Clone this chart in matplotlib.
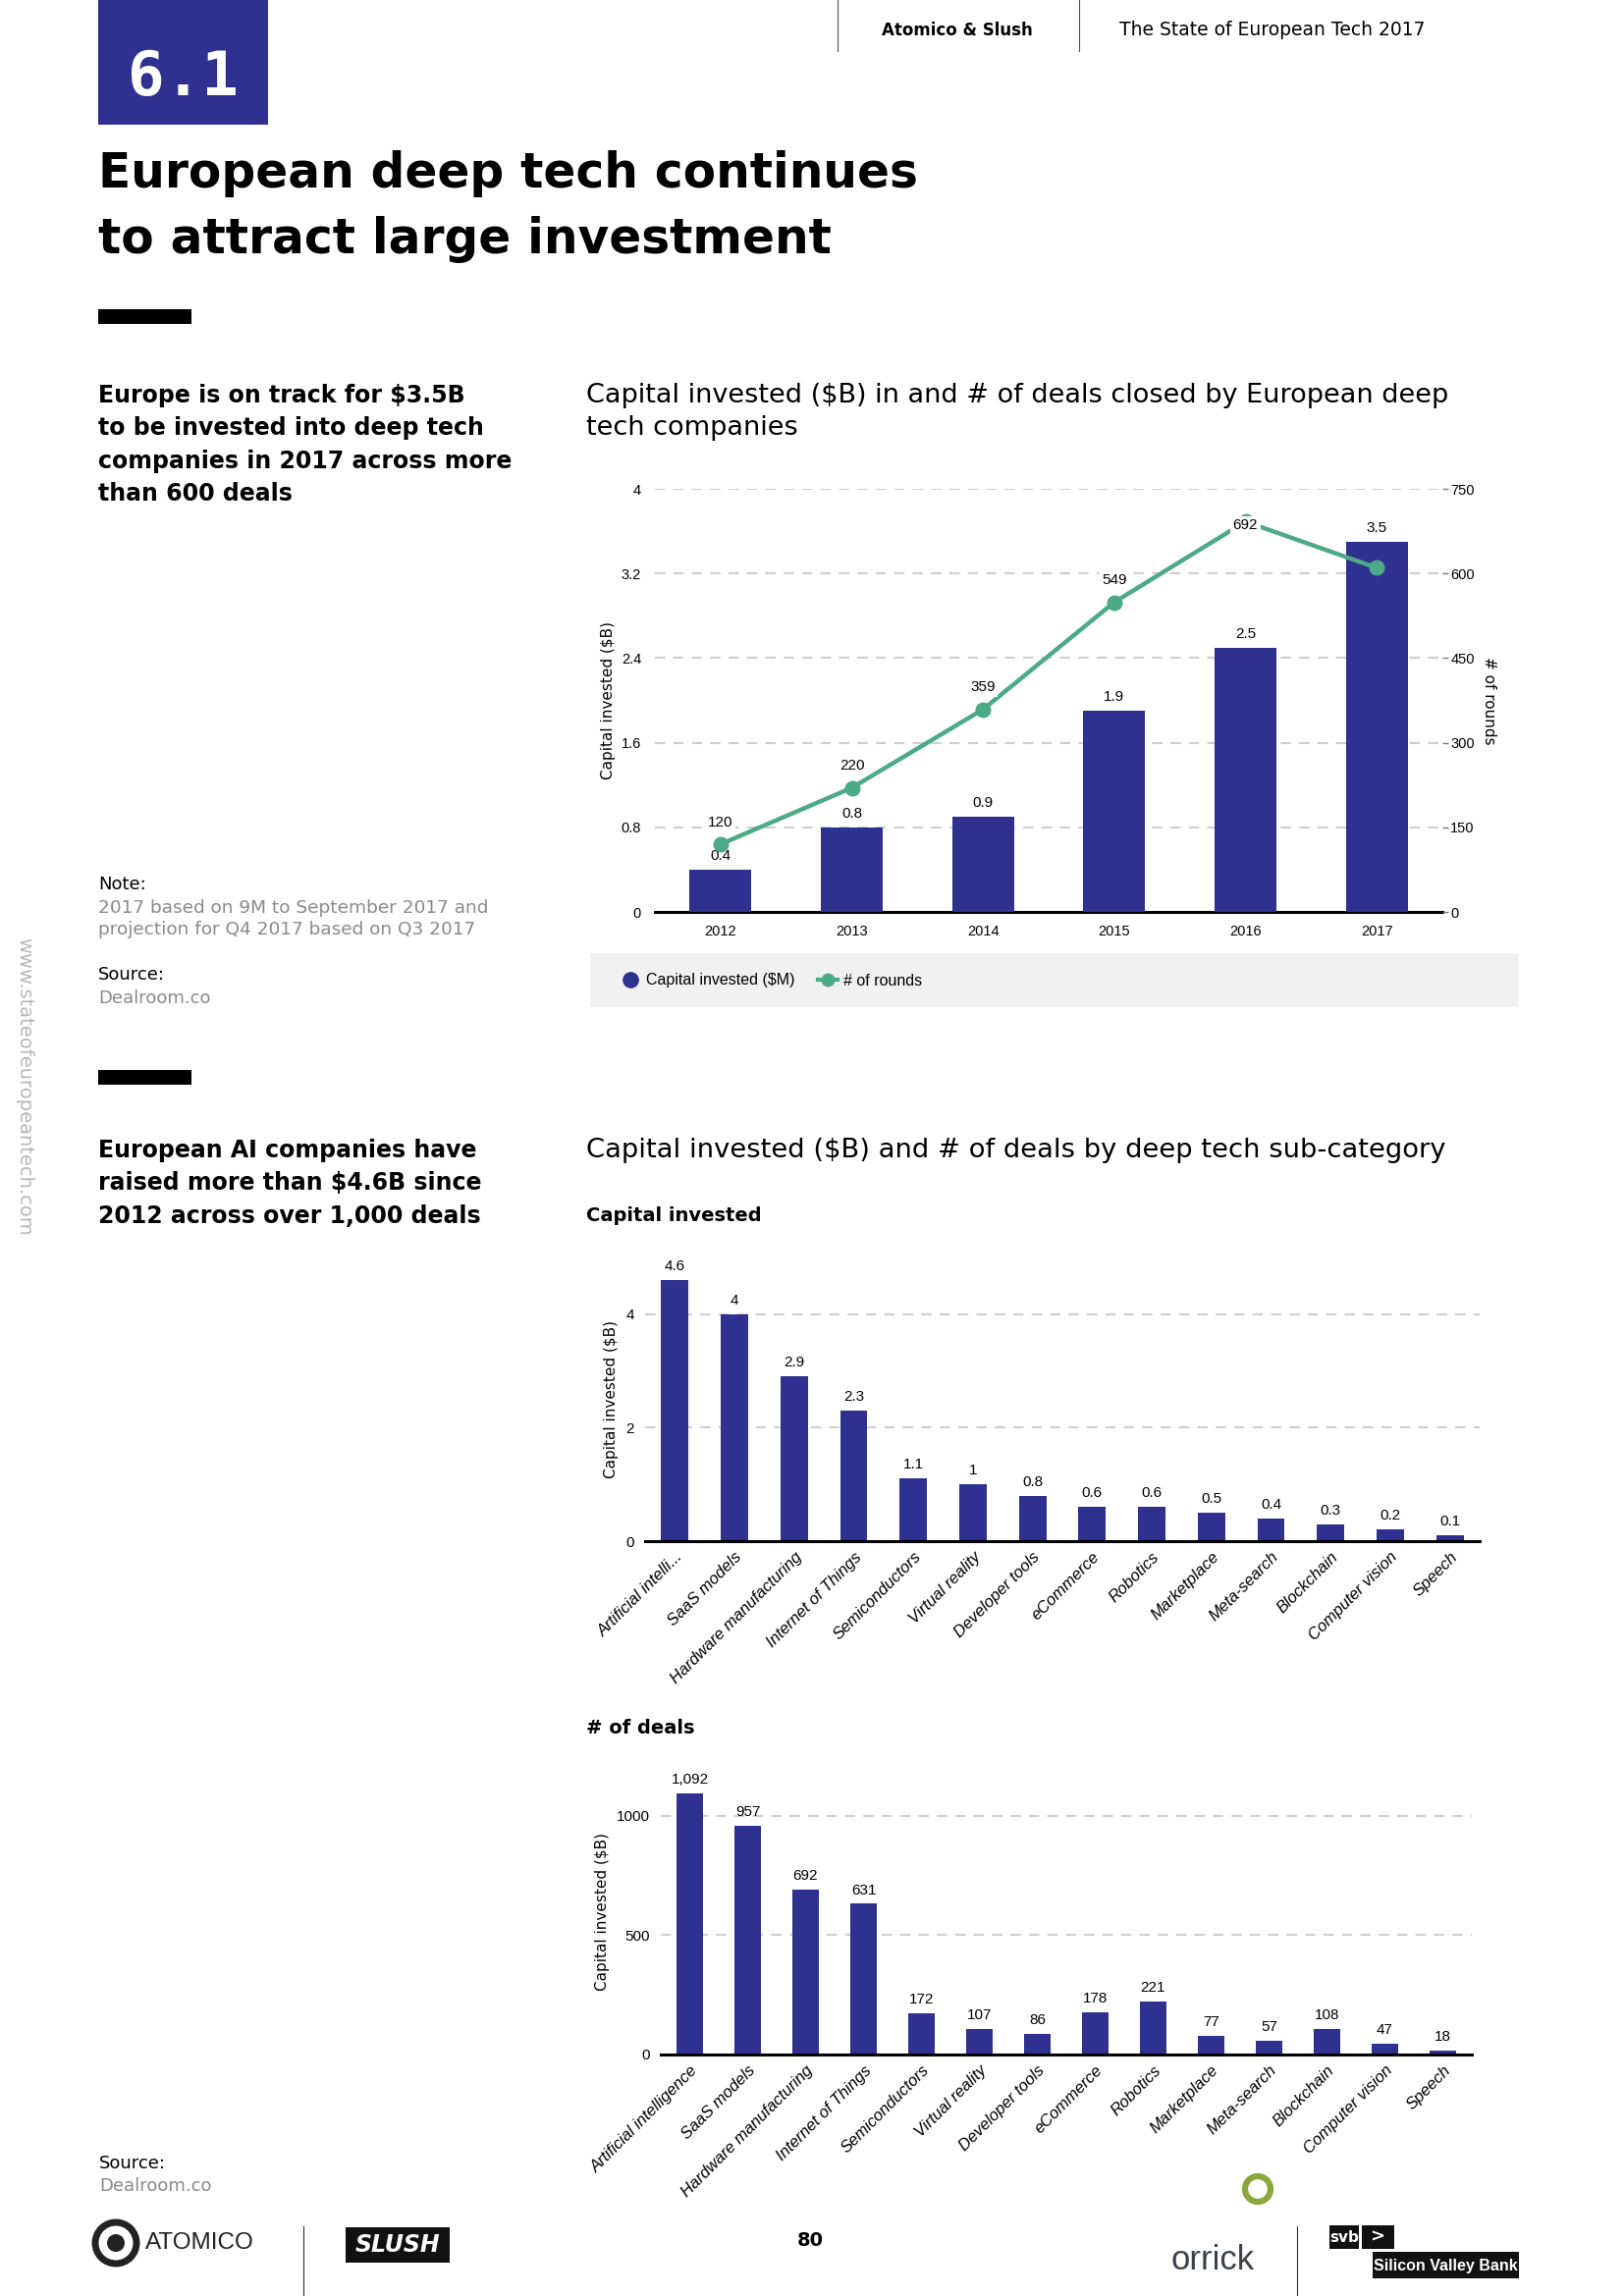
import numpy as np
import matplotlib.pyplot as plt
from matplotlib.patches import Rectangle, Ellipse
from matplotlib.lines import Line2D

# --- page geometry (pixels of the 1654x2339 page) ---
W, H = 1654, 2339


def fx(x):
    return x / W


def fy(y):
    return 1 - y / H


def ring(cx, cy, r, **kw):
    # round circle in figure coords (page is not square)
    return Ellipse((fx(cx), fy(cy)), 2 * r / W, 2 * r / H, transform=fig.transFigure, **kw)


NAVY = '#2e3190'
GREEN = '#4caa86'
GRID = '#cfcfcf'
GREY_TXT = '#8a8a8a'

# --- data: capital invested / rounds by year ---
years = ['2012', '2013', '2014', '2015', '2016', '2017']
capital_b = [0.4, 0.8, 0.9, 1.9, 2.5, 3.5]
rounds = [120, 220, 359, 549, 692, 610]
round_labels = ['120', '220', '359', '549', '692', '']

# --- data: sub-categories ---
categories = ['Artificial intelligence', 'SaaS models', 'Hardware manufacturing',
              'Internet of Things', 'Semiconductors', 'Virtual reality',
              'Developer tools', 'eCommerce', 'Robotics', 'Marketplace',
              'Meta-search', 'Blockchain', 'Computer vision', 'Speech']
categories_short = ['Artificial intelli...'] + categories[1:]
sub_capital = [4.6, 4, 2.9, 2.3, 1.1, 1, 0.8, 0.6, 0.6, 0.5, 0.4, 0.3, 0.2, 0.1]
sub_capital_labels = ['4.6', '4', '2.9', '2.3', '1.1', '1', '0.8', '0.6', '0.6',
                      '0.5', '0.4', '0.3', '0.2', '0.1']
sub_deals = [1092, 957, 692, 631, 172, 107, 86, 178, 221, 77, 57, 108, 47, 18]
sub_deal_labels = ['1,092', '957', '692', '631', '172', '107', '86', '178', '221',
                   '77', '57', '108', '47', '18']

plt.rcParams['font.family'] = ['DejaVu Sans']
fig = plt.figure(figsize=(W / 100, H / 100), dpi=100)

# --- header ---
fig.add_artist(Rectangle((fx(100), fy(127)), fx(273) - fx(100), 127 / H,
                         transform=fig.transFigure, color=NAVY, lw=0))
fig.text(fx(186), fy(80), '6.1', color='white', fontsize=45, fontweight='bold',
         family='DejaVu Sans Mono', ha='center', va='center')
for xl in (853, 1099):
    fig.add_artist(Line2D([fx(xl), fx(xl)], [fy(0), fy(52)], color='#555555', lw=0.8))
fig.text(fx(975), fy(31), 'Atomico & Slush', fontsize=12, fontweight='bold', ha='center', va='center')
fig.text(fx(1296), fy(31), 'The State of European Tech 2017', fontsize=13.5, ha='center', va='center')

fig.text(fx(100), fy(177), 'European deep tech continues', fontsize=35, fontweight='bold', va='center')
fig.text(fx(100), fy(244), 'to attract large investment', fontsize=35, fontweight='bold', va='center')

for yb in (315, 1090):
    fig.add_artist(Rectangle((fx(100), fy(yb + 15)), fx(195) - fx(100), 15 / H,
                             transform=fig.transFigure, color='black', lw=0))

# --- left column text ---
for i, line in enumerate(['Europe is on track for $3.5B', 'to be invested into deep tech',
                          'companies in 2017 across more', 'than 600 deals']):
    fig.text(fx(100), fy(403 + i * 33.3), line, fontsize=17, fontweight='bold', va='center')
fig.text(fx(100), fy(901), 'Note:', fontsize=13, va='center')
fig.text(fx(100), fy(925), '2017 based on 9M to September 2017 and', fontsize=13.3,
         color=GREY_TXT, va='center')
fig.text(fx(100), fy(947), 'projection for Q4 2017 based on Q3 2017', fontsize=13.3,
         color=GREY_TXT, va='center')
fig.text(fx(100), fy(993), 'Source:', fontsize=13, va='center')
fig.text(fx(100), fy(1017), 'Dealroom.co', fontsize=13, color=GREY_TXT, va='center')

for i, line in enumerate(['European AI companies have', 'raised more than $4.6B since',
                          '2012 across over 1,000 deals']):
    fig.text(fx(100), fy(1172 + i * 33.3), line, fontsize=17, fontweight='bold', va='center')

fig.text(fx(25), fy(1107), 'www.stateofeuropeantech.com', fontsize=14, color='#b8b8b8',
         rotation=-90, ha='center', va='center')

# --- chart 1 titles ---
fig.text(fx(597), fy(403), 'Capital invested ($B) in and # of deals closed by European deep',
         fontsize=19.5, va='center')
fig.text(fx(597), fy(436), 'tech companies', fontsize=19.5, va='center')

CH = ['Liberation Sans', 'DejaVu Sans']

# --- chart 1 ---
ax = fig.add_axes([fx(667), fy(929), (1469 - 667) / W, (929 - 498) / H])
x = np.arange(len(years))
bars = ax.bar(x, capital_b, width=0.47, color=NAVY, zorder=3)
ax.set_xlim(-0.5, 5.5)
ax.set_ylim(0, 4)
ax.set_yticks(np.arange(0, 4.01, 0.8))
ax.set_yticklabels(['0', '0.8', '1.6', '2.4', '3.2', '4'])
ax.set_xticks(x)
ax.set_xticklabels(years)
ax.grid(axis='y', ls=(0, (5, 4)), color=GRID, lw=1.5, zorder=0)
for s in ('top', 'right', 'left'):
    ax.spines[s].set_visible(False)
ax.spines['bottom'].set_linewidth(2.2)
ax.tick_params(axis='both', length=0, labelsize=10.5)
ax.tick_params(axis='y', pad=10)
ax.tick_params(axis='x', pad=9)
for t in ax.get_xticklabels() + ax.get_yticklabels():
    t.set_family(CH)
ax.set_ylabel('Capital invested ($B)', fontsize=11, labelpad=4)
for xi, v in zip(x, capital_b):
    ax.annotate(f'{v:g}', (xi, v), xytext=(0, 5), textcoords='offset points',
                ha='center', va='bottom', fontsize=11, family=CH)

ax2 = ax.twinx()
line, = ax2.plot(x, rounds, color=GREEN, lw=3.2, marker='o', ms=10.5, zorder=4)
ax2.set_ylim(0, 750)
ax2.set_yticks(range(0, 751, 150))
for s in ('top', 'right', 'left', 'bottom'):
    ax2.spines[s].set_visible(False)
ax2.tick_params(axis='y', length=4, width=1, color='#777777', labelsize=10.5, pad=2)
for t in ax2.get_yticklabels():
    t.set_family(CH)
ax2.set_ylabel('# of rounds', fontsize=11, rotation=270, labelpad=16)
for xi, v, lab in zip(x, rounds, round_labels):
    # the top label sits on its point (no room above the chart)
    dy = -8 if v > 680 else 11
    ax2.annotate(lab, (xi, v), xytext=(0, dy), textcoords='offset points',
                 ha='center', va='bottom', fontsize=11, family=CH,
                 bbox=dict(boxstyle='square,pad=0.15', fc='white', ec='none'), zorder=5)

# legend band
fig.add_artist(Rectangle((fx(601), fy(1026)), fx(1547) - fx(601), 55 / H,
                         transform=fig.transFigure, color='#f1f1f1', lw=0))
handles = [Line2D([], [], color=NAVY, marker='o', ls='none', ms=11),
           Line2D([], [], color=GREEN, marker='o', lw=3, ms=9)]
fig.legend(handles, ['Capital invested ($M)', '# of rounds'], loc='center left',
           bbox_to_anchor=(fx(618), fy(999)), frameon=False, ncol=2,
           handlelength=1.2, handletextpad=0.4, columnspacing=1.5,
           prop={'family': CH, 'size': 11.5})

# --- chart 2 titles ---
fig.text(fx(597), fy(1172), 'Capital invested ($B) and # of deals by deep tech sub-category',
         fontsize=19.7, va='center')
fig.text(fx(597), fy(1238), 'Capital invested', fontsize=14, fontweight='bold', va='center')
fig.text(fx(597), fy(1761), '# of deals', fontsize=14, fontweight='bold', va='center')


def sub_chart(rect, values, labels, ticks, ylim, names, ypad):
    a = fig.add_axes(rect)
    xs = np.arange(len(values))
    a.bar(xs, values, width=0.46, color=NAVY, zorder=3)
    a.set_xlim(-0.5, len(values) - 0.5)
    a.set_ylim(*ylim)
    a.set_yticks(ticks)
    a.grid(axis='y', ls=(0, (5, 4)), color=GRID, lw=1.5, zorder=0)
    for s in ('top', 'right', 'left'):
        a.spines[s].set_visible(False)
    a.spines['bottom'].set_linewidth(2.2)
    a.spines['bottom'].set_zorder(4)
    a.set_xticks(xs)
    a.set_xticklabels(names, rotation=45, ha='right', rotation_mode='anchor',
                      fontsize=12, style='italic', family=CH)
    a.tick_params(axis='y', length=0, labelsize=11, pad=8)
    a.tick_params(axis='x', length=0, pad=6)
    for t in a.get_yticklabels():
        t.set_family(CH)
    a.set_ylabel('Capital invested ($B)', fontsize=11, labelpad=ypad)
    for xi, v, lab in zip(xs, values, labels):
        a.annotate(lab, (xi, v), xytext=(0, 5), textcoords='offset points',
                   ha='center', va='bottom', fontsize=11, family=CH)
    return a


sub_chart([fx(657), fy(1570), (1507 - 657) / W, (1570 - 1281) / H],
          sub_capital, sub_capital_labels, [0, 2, 4], (0, 5), categories_short, 5)
sub_chart([fx(673), fy(2093), (1499 - 673) / W, (2093 - 1801) / H],
          sub_deals, sub_deal_labels, [0, 500, 1000], (0, 1200), categories, 5)

# --- footer ---
fig.text(fx(101), fy(2204), 'Source:', fontsize=13, va='center')
fig.text(fx(101), fy(2227), 'Dealroom.co', fontsize=13, color=GREY_TXT, va='center')

fig.add_artist(ring(118, 2285, 21, fill=False, ec='#222222', lw=5))
fig.add_artist(ring(118, 2285, 9, color='#222222', lw=0))
fig.text(fx(148), fy(2285), 'ATOMICO', fontsize=17.5, family='Liberation Sans', va='center',
         color='#222222')
for xl in (309, 1321):
    fig.add_artist(Line2D([fx(xl), fx(xl)], [fy(2268), fy(2339)], color='#333333', lw=0.8))
fig.add_artist(Rectangle((fx(352), fy(2305)), fx(458) - fx(352), 36 / H,
                         transform=fig.transFigure, color='#111111', lw=0))
fig.text(fx(405), fy(2287), 'SLUSH', fontsize=17, fontweight='bold', style='italic',
         color='white', ha='center', va='center')
fig.text(fx(825), fy(2283), '80', fontsize=14, fontweight='bold', ha='center', va='center')
fig.text(fx(1235), fy(2302), 'orrick', fontsize=25, color='#3b4148', ha='center', va='center',
         family='Liberation Sans')
fig.add_artist(ring(1281, 2230, 13, fill=False, ec='#8aa83c', lw=4.5))
fig.add_artist(Rectangle((fx(1354), fy(2291)), 30 / W, 24 / H,
                         transform=fig.transFigure, color='#111111', lw=0))
fig.text(fx(1369), fy(2279), 'svb', fontsize=11, fontweight='bold', color='white',
         ha='center', va='center')
fig.add_artist(Rectangle((fx(1387), fy(2291)), 33 / W, 24 / H,
                         transform=fig.transFigure, color='#111111', lw=0))
fig.text(fx(1403), fy(2279), '>', fontsize=13, fontweight='bold', color='white',
         ha='center', va='center')
fig.add_artist(Rectangle((fx(1398), fy(2321)), fx(1547) - fx(1398), 27 / H,
                         transform=fig.transFigure, color='#111111', lw=0))
fig.text(fx(1472), fy(2308), 'Silicon Valley Bank', fontsize=11.5, fontweight='bold',
         color='white', ha='center', va='center', family='Liberation Sans')

fig.savefig('out.png', dpi=100)
